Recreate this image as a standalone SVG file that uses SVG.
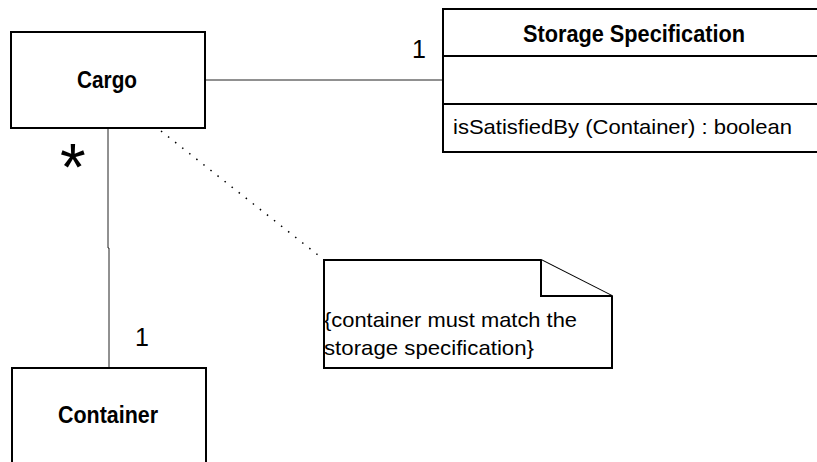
<svg xmlns="http://www.w3.org/2000/svg" width="817" height="462" viewBox="0 0 817 462">
<style>
.box{fill:#fff;stroke:#000;stroke-width:2}
.ln{fill:none;stroke:#222;stroke-width:1}
.dot{fill:none;stroke:#000;stroke-width:1.5;stroke-dasharray:1.5 7.5}
text{font-family:"Liberation Sans Narrow","Liberation Sans",Arial,sans-serif;fill:#000}
.b{font-weight:bold;font-size:23px;text-anchor:middle}
.r{font-size:21px}
.m{font-family:"Liberation Sans",Arial,sans-serif;font-size:25px}
</style>
<rect width="817" height="462" fill="#fff"/>
<g id="connectors">
<line class="ln" x1="205" y1="80" x2="443" y2="80"/>
<polyline class="ln" points="108,128 108,248 109,248 109,368"/>
<line class="dot" x1="161" y1="131" x2="323" y2="259"/>
<text class="m" x="412" y="58">1</text>
<text class="m" x="60" y="190" style="font-size:66px">*</text>
<text class="m" x="135" y="346">1</text>
</g>
<g id="cargo">
<rect class="box" x="11" y="32" width="194" height="96"/>
<text class="b" x="107" y="88" textLength="60" lengthAdjust="spacingAndGlyphs">Cargo</text>
</g>
<g id="storage">
<rect class="box" x="443" y="9" width="380" height="143"/>
<line class="box" x1="443" y1="56" x2="817" y2="56"/>
<line class="box" x1="443" y1="104" x2="817" y2="104"/>
<text class="b" x="634" y="42" textLength="222" lengthAdjust="spacingAndGlyphs">Storage Specification</text>
<text class="r" x="453" y="134" textLength="339" lengthAdjust="spacingAndGlyphs">isSatisfiedBy (Container) : boolean</text>
</g>
<g id="container">
<rect class="box" x="12" y="368" width="194" height="110"/>
<text class="b" x="108" y="423" textLength="100" lengthAdjust="spacingAndGlyphs">Container</text>
</g>
<g id="note">
<polygon class="box" points="324,260 541,260 612,296 612,368 324,368"/>
<polyline class="box" points="541,260 541,296 612,296"/>
<text class="r" x="324" y="327" textLength="253" lengthAdjust="spacingAndGlyphs">{container must match the</text>
<text class="r" x="324" y="355" textLength="210" lengthAdjust="spacingAndGlyphs">storage specification}</text>
</g>
</svg>
